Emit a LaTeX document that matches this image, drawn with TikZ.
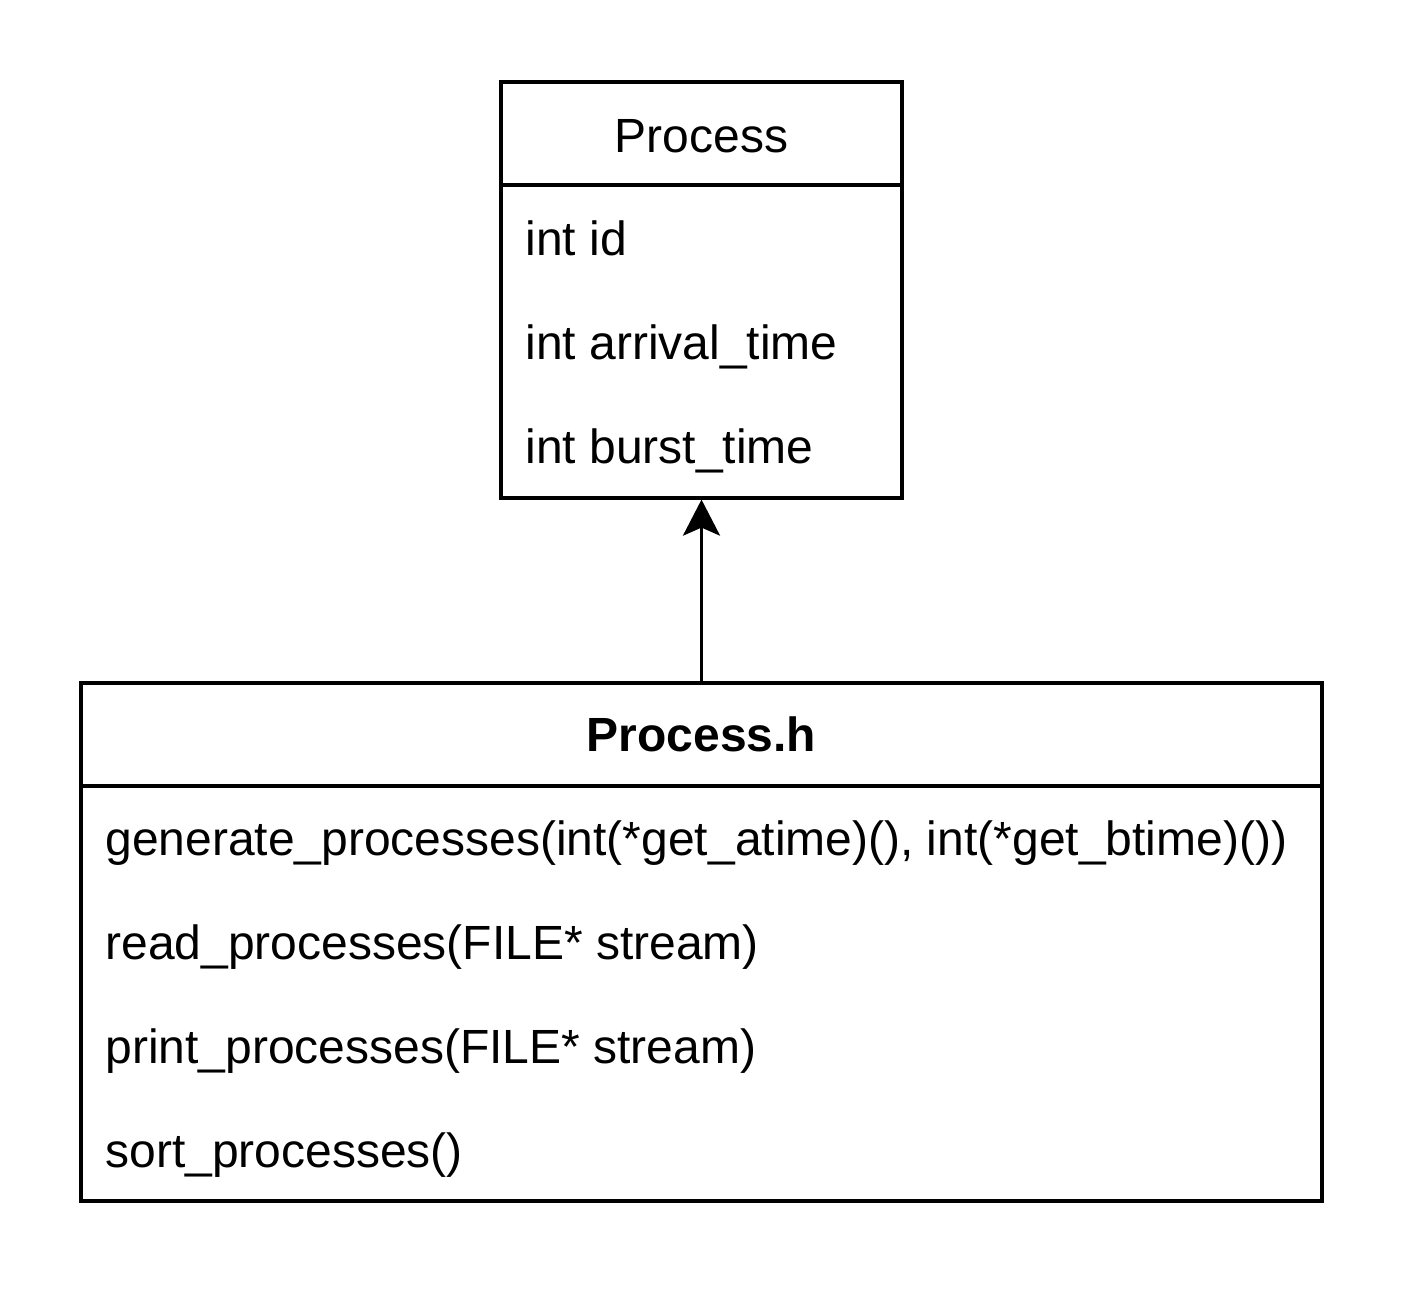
\documentclass[tikz,border=0pt]{standalone}
\usepackage{fontspec}
\setmainfont{Liberation Sans}
\usetikzlibrary{arrows.meta}

\tikzset{
    umlbox/.style={draw, line width=1.6pt, inner sep=0pt, rectangle},
    member/.style={anchor=base west, inner sep=0pt, font=\fontsize{24}{28}\selectfont},
    title/.style={anchor=base, inner sep=0pt, font=\fontsize{24}{28}\selectfont}
}

\begin{document}
\begin{tikzpicture}[x=0.5pt, y=-0.5pt]
        \useasboundingbox (0,0) rectangle (1408,1296);
        
        \node[umlbox, minimum width=200.5pt, minimum height=208pt] (process) at (701.5,290) {};
        \node[umlbox, minimum width=620.5pt, minimum height=259pt] (header) at (701.5,942) {};
        
        \draw[line width=1.6pt] (process.west |- 0,185)--(process.east |- 0,185);
        \draw[line width=1.6pt] (header.west |- 0,786)--(header.east |- 0,786);
        
        \node[title] (processname) at (701.5,152) {Process};
        \node[member] (fid) at (525,255) {int id};
        \node[member] (farrival) at (525,359) {int arrival\_time};
        \node[member] (fburst) at (525,463) {int burst\_time};
        
        \node[title] (headername) at (701.5,751) {\bfseries Process.h};
        \node[member] (mgenerate) at (105,855) {generate\_processes(int(*get\_atime)(), int(*get\_btime)())};
        \node[member] (mread) at (105,959) {read\_processes(FILE* stream)};
        \node[member] (mprint) at (105,1063) {print\_processes(FILE* stream)};
        \node[member] (msort) at (105,1167) {sort\_processes()};
        
        \draw[line width=1.6pt, -{Stealth[length=18pt, width=18.5pt, inset=4pt]}] (header.north)--(process.south);
        
    \end{tikzpicture}
\end{document}
